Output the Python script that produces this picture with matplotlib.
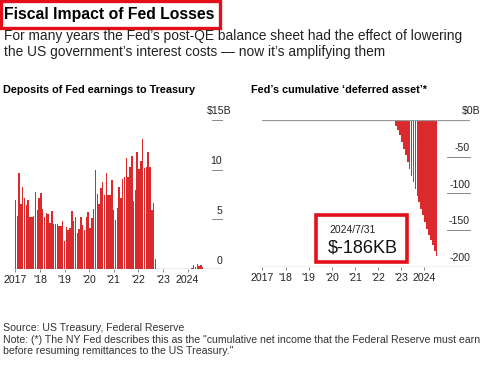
import matplotlib
matplotlib.use("Agg")
import matplotlib.pyplot as plt
import pandas as pd
from matplotlib.patches import Rectangle

plt.rcParams['font.family'] = ['Liberation Sans', 'DejaVu Sans']

# ---------------- data ----------------
deposits_vals = [6.96, 5.35, 9.7, 6.55, 8.3, 7.1, 6.45, 6.9, 5.2, 5.25, 5.3, 7.7, 5.95, 7.1, 7.6, 6.05,
                 5.2, 5.6, 5.5, 4.6, 5.8, 4.55, 4.55, 4.5, 4.35, 4.3, 4.8, 2.8, 4.2, 3.95, 4.1, 5.85,
                 4.8, 5.2, 3.6, 4.0, 5.2, 4.45, 3.95, 5.2, 5.7, 4.1, 5.1, 6.0, 10.0, 7.55, 6.5, 8.2,
                 8.8, 7.4, 9.7, 7.4, 7.4, 8.95, 5.95, 4.95, 6.1, 8.3, 7.1, 9.1, 9.3, 11.15, 9.3, 10.3,
                 11.4, 6.8, 7.95, 11.8, 10.1, 10.9, 13.05, 10.2, 10.25, 11.8, 10.3, 5.95, 6.6, 1.0,
                 0, 0, 0, 0, 0, 0, 0, 0, 0, 0, 0, 0, 0, 0, 0, 0, 0, 0, 0,
                 0.15, 0.4, 0.25, 0.5, 0.3, 0.45, 0.2]
deposits_dates = pd.date_range("2017-01-01", periods=len(deposits_vals), freq="27D")

deferred_vals = [-2, -8, -14, -20, -30, -39, -48, -57, -67, -76, -85, -94, -103, -112, -121,
                 -130, -139, -148, -157, -164, -171, -179, -186]
deferred_dates = pd.date_range("2022-09-01", periods=len(deferred_vals), freq="MS") + pd.Timedelta(days=14)

year_ticks = [2017, 2018, 2019, 2020, 2021, 2022, 2023, 2024]
year_labels = ["2017", "'18", "'19", "'20", "'21", "'22", "'23", "2024"]
left_yticks = [5, 10, 15]
left_ylabels = ["5", "10", "$15"]
right_yticks = [0, -50, -100, -150, -200]
right_ylabels = ["$0", "-50", "-100", "-150", "-200"]

title = "Fiscal Impact of Fed Losses"
subtitle1 = "For many years the Fed\u2019s post-QE balance sheet had the effect of lowering"
subtitle2 = "the US government\u2019s interest costs \u2014 now it\u2019s amplifying them"
left_title = "Deposits of Fed earnings to Treasury"
right_title = "Fed\u2019s cumulative \u2018deferred asset\u2019*"
note_date = "2024/7/31"
note_value = "$-186KB"
source = "Source: US Treasury, Federal Reserve"
note1 = "Note: (*) The NY Fed describes this as the \"cumulative net income that the Federal Reserve must earn"
note2 = "before resuming remittances to the US Treasury.\""

RED = "#da2a2e"
BOXRED = "#e3101c"
W, H = 500, 366


def to_year(d):
    d = pd.DatetimeIndex(d)
    return d.year + (d.dayofyear - 1) / 365.25


fig = plt.figure(figsize=(W / 100, H / 100), dpi=100)
fig.patch.set_facecolor("white")


def fx(x):
    return x / W


def fy(y):
    return 1 - y / H


def axes_px(x0, y0, x1, y1):
    return fig.add_axes([fx(x0), fy(y1), (x1 - x0) / W, (y1 - y0) / H])


# ---- title block ----
fig.text(fx(4), fy(15), title, fontsize=11.3, fontweight="bold", color="black", va="center", ha="left")
fig.patches.append(Rectangle((fx(1), fy(28)), fx(219), 27 / H, transform=fig.transFigure,
                             fill=False, edgecolor=BOXRED, linewidth=2.4))
fig.text(fx(4), fy(36), subtitle1, fontsize=9.9, color="#222222", va="center", ha="left")
fig.text(fx(4), fy(52), subtitle2, fontsize=9.9, color="#222222", va="center", ha="left")

fig.text(fx(3), fy(90), left_title, fontsize=7.85, fontweight="bold", color="black", va="center")
fig.text(fx(251), fy(90), right_title, fontsize=7.85, fontweight="bold", color="black", va="center")

# ---- left chart ----
axL = axes_px(13, 115, 222, 269)
xL = to_year(deposits_dates)
axL.bar(xL, deposits_vals, width=22 / 365.25, color=RED, linewidth=0, align="center")
axL.set_xlim(2016.9, 2025.4)
axL.set_ylim(0, 15.5)
for s in axL.spines.values():
    s.set_visible(False)
axL.axhline(0, color="#666666", linewidth=0.9)
axL.set_yticks([])
axL.set_xticks(year_ticks)
axL.set_xticklabels(year_labels)
axL.tick_params(axis="x", length=2.5, width=0.6, color="#777777", labelsize=7.6, pad=2, labelcolor="#222222")
for v, lab in zip(left_yticks, left_ylabels):
    axL.plot([2024.99, 2025.4], [v, v], color="#888888", linewidth=0.7, clip_on=False)
    txt = lab + ("B" if lab.startswith("$") else "")
    axL.text(2025.4 + (0.4 if lab.startswith("$") else 0), v + 0.35, txt, ha="right", va="bottom",
             fontsize=7.6, color="#222222", clip_on=False)
axL.text(2025.4, 0.35, "0", ha="right", va="bottom", fontsize=7.6, color="#222222")

# ---- right chart ----
axR = axes_px(262, 120, 470, 266.7)
xR = to_year(deferred_dates)
axR.bar(xR, deferred_vals, width=25 / 365.25, color=RED, linewidth=0, align="center")
axR.set_xlim(2016.98, 2025.98)
axR.set_ylim(-200, 0)
for s in axR.spines.values():
    s.set_visible(False)
axR.axhline(0, color="#999999", linewidth=0.9)
axR.axhline(-200, color="#999999", linewidth=0.9)
axR.set_yticks([])
axR.set_xticks(year_ticks)
axR.set_xticklabels(year_labels)
axR.tick_params(axis="x", length=2.5, width=0.6, color="#777777", labelsize=7.6, pad=2, labelcolor="#222222")
for v, lab in zip(right_yticks, right_ylabels):
    if v not in (0, -200):
        axR.plot([2025.0, 2025.98], [v, v], color="#888888", linewidth=0.7, clip_on=False)
    txt = lab + ("B" if lab.startswith("$") else "")
    axR.text(2025.98 + (0.45 if lab.startswith("$") else 0), v + 5, txt, ha="right", va="bottom",
             fontsize=7.6, color="#222222", clip_on=False)

# annotation box
fig.patches.append(Rectangle((fx(316), fy(262)), 91 / W, 47 / H, transform=fig.transFigure,
                             facecolor="white", edgecolor=BOXRED, linewidth=2.6, zorder=5))
fig.text(fx(329), fy(230), note_date, fontsize=7.5, color="#222222", va="center", zorder=6)
fig.text(fx(328), fy(248), note_value, fontsize=13, color="#111111", va="center", zorder=6)

# ---- footer ----
fig.text(fx(3), fy(328), source, fontsize=7.6, color="#333333", va="center")
fig.text(fx(3), fy(340), note1, fontsize=7.6, color="#333333", va="center")
fig.text(fx(3), fy(351), note2, fontsize=7.6, color="#333333", va="center")

fig.savefig("out.png", dpi=100, facecolor="white")
